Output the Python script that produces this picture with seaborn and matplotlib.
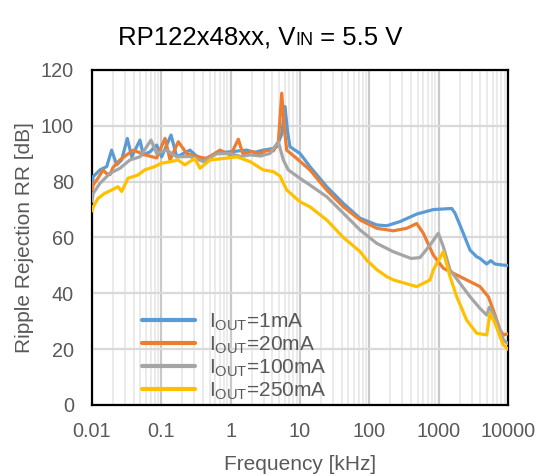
import numpy as np
import pandas as pd
import matplotlib
matplotlib.use("Agg")
import matplotlib.pyplot as plt
import seaborn as sns
from matplotlib.ticker import LogLocator, NullFormatter
from matplotlib.offsetbox import TextArea, HPacker, AnchoredOffsetbox
from matplotlib.lines import Line2D

# ---------------- data ----------------
series_names = ["1mA", "20mA", "100mA", "250mA"]
legend_labels = [r"I$_{\mathrm{OUT}}$=1mA", r"I$_{\mathrm{OUT}}$=20mA",
                 r"I$_{\mathrm{OUT}}$=100mA", r"I$_{\mathrm{OUT}}$=250mA"]
colors = ["#5B9BD5", "#ED7D31", "#A5A5A5", "#FFC000"]

freq_1mA = [0.01, 0.0104, 0.013, 0.0163, 0.0192, 0.0227, 0.0268, 0.0323, 0.0374, 0.0492,
            0.0549, 0.0687, 0.0858, 0.101, 0.138, 0.167, 0.259, 0.31, 0.403, 0.5, 0.629,
            0.8, 0.978, 1.3, 1.7, 2.2, 2.96, 4.12, 4.61, 5.45, 6.08, 6.6, 7.17, 10.0,
            13.9, 24.3, 42.2, 73.4, 128, 178, 277, 483, 838, 1542, 1721, 2266, 2831,
            3537, 3948, 4929, 5634, 6500, 8570, 10000]
rr_1mA = [79, 81.8, 84.2, 85.4, 91.3, 86, 87.8, 95.5, 88.9, 94.9,
          89.6, 90.7, 93.1, 88.9, 96.7, 88.9, 91.3, 89.5, 87.8, 89.0, 90.1,
          90.5, 90.7, 91.0, 91.3, 90.5, 91.3, 91.9, 92.5, 97, 106.9, 98, 92.5, 90.1,
          85.4, 78.2, 72.2, 66.9, 64.5, 64.2, 65.7, 68.4, 70.0, 70.4, 68.7, 61.5, 55.5,
          53.1, 52.5, 50.5, 51.7, 50.5, 50.1, 50.0]

freq_20mA = [0.01, 0.0104, 0.012, 0.0145, 0.016, 0.0182, 0.02, 0.0253, 0.0394, 0.0581,
             0.0858, 0.113, 0.1334, 0.1757, 0.232, 0.3, 0.451, 0.702, 1.0, 1.288, 1.5,
             2.0, 2.65, 3.3, 4.12, 4.87, 5.45, 5.9, 6.43, 8.97, 13.9, 24.3, 42.2, 73.4,
             128, 222, 346, 483, 601, 838, 1167, 1626, 2535, 3948, 5200, 6143, 7676,
             8570, 10000]
rr_20mA = [77, 78.8, 81, 84.2, 83, 82.5, 85, 87.8, 91.3, 89.6,
           88.5, 95.5, 87.8, 94.3, 90.1, 89.2, 88.3, 91.3, 89.5, 95.2, 90,
           90.8, 90.0, 91.2, 91, 94, 111.7, 100, 91.3, 88.3, 84.2, 77, 71, 66.3,
           63.3, 62.4, 63.3, 65, 61.5, 53.7, 49, 47.2, 44.8, 42.4, 38.8, 34, 26.9,
           25.1, 25.5]

freq_100mA = [0.01, 0.0104, 0.013, 0.0182, 0.0253, 0.0353, 0.0492, 0.071, 0.0858, 0.1194,
              0.1666, 0.259, 0.403, 0.629, 0.978, 1.4, 1.9, 2.7, 3.69, 4.87, 5.74, 6.78,
              10.0, 13.9, 24.3, 42.2, 73.4, 128, 222, 400, 538, 750, 989, 1167, 1458,
              2032, 2831, 3948, 4929, 5373, 6143, 7676, 8570, 10000]
rr_100mA = [73, 75.8, 79.4, 83, 84.8, 87.8, 88.9, 94.9, 90.1, 91.3,
            88.9, 89.0, 87.2, 90.0, 90.1, 89.0, 89.6, 89.2, 90.1, 94.3, 87.8, 84.2,
            81.2, 78.8, 74.6, 68.7, 62.7, 57.9, 54.9, 52.5, 52.8, 57.3, 61.5, 56.7, 48.4,
            43.6, 38.8, 34.6, 32.2, 35.0, 32.8, 26.9, 23.3, 22.0]

freq_250mA = [0.01, 0.0104, 0.0122, 0.0152, 0.0192, 0.0237, 0.0268, 0.033, 0.0461, 0.0575,
              0.0802, 0.1, 0.137, 0.174, 0.2175, 0.303, 0.361, 0.504, 0.783, 1.222,
              1.9, 2.96, 4.12, 5.15, 6.43, 7.17, 10.0, 13.9, 24.3, 42.2, 73.4, 91.7,
              128, 178, 222, 483, 750, 838, 1167, 1458, 1820, 2535, 3537, 4929, 5505,
              6500, 7676, 8570, 10000]
rr_250mA = [69.5, 71, 74, 75.8, 77, 78.2, 76.5, 81.2, 82.4, 84.2,
            85.4, 86.6, 87.2, 87.8, 86, 88.3, 84.8, 87.8, 88.3, 88.9,
            87.2, 84.2, 83.6, 82, 77, 76, 72.8, 71, 66.3, 60, 55, 51.9,
            48.5, 46, 44.8, 42.4, 44.8, 48.4, 54.9, 46, 38.8, 30.4, 25.7, 25.1, 32.8,
            29.3, 24.5, 21.5, 20.0]

x_ticks = [0.01, 0.1, 1, 10, 100, 1000, 10000]
x_tick_labels = ["0.01", "0.1", "1", "10", "100", "1000", "10000"]
y_ticks = [0, 20, 40, 60, 80, 100, 120]

# ---------------- build table ----------------
frames = []
for name, f, r in zip(series_names,
                      [freq_1mA, freq_20mA, freq_100mA, freq_250mA],
                      [rr_1mA, rr_20mA, rr_100mA, rr_250mA]):
    frames.append(pd.DataFrame({"freq": f, "rr": r, "series": name}))
df = pd.concat(frames, ignore_index=True)

# ---------------- style ----------------
sns.set_style("white")
plt.rcParams["font.family"] = ["Liberation Sans", "DejaVu Sans"]
plt.rcParams["mathtext.fontset"] = "custom"
plt.rcParams["mathtext.rm"] = "Liberation Sans"
plt.rcParams["mathtext.it"] = "Liberation Sans:italic"
plt.rcParams["mathtext.bf"] = "Liberation Sans:bold"

text_gray = "#595959"

fig = plt.figure(figsize=(5.37, 4.76), dpi=100)
ax = fig.add_axes([92 / 537, 1 - 405 / 476, 416 / 537, 335 / 476])

sns.lineplot(data=df, x="freq", y="rr", hue="series", hue_order=series_names,
             palette=dict(zip(series_names, colors)), linewidth=2.3,
             estimator=None, sort=True, ax=ax, legend=False, zorder=3)

ax.set_xscale("log")
ax.set_xlim(0.01, 10000)
ax.set_ylim(0, 120)
ax.set_xticks(x_ticks, x_tick_labels)
ax.set_yticks(y_ticks)
ax.xaxis.set_minor_locator(LogLocator(base=10, subs=np.arange(2, 10), numticks=30))
ax.xaxis.set_minor_formatter(NullFormatter())

ax.grid(which="major", axis="x", color="#c9c9c9", linewidth=1.6, zorder=0)
ax.grid(which="minor", axis="x", color="#e8e8e8", linewidth=1.2, zorder=0)
ax.grid(which="major", axis="y", color="#d9d9d9", linewidth=1.6, zorder=0)
ax.set_axisbelow(True)

for sp in ax.spines.values():
    sp.set_color("black")
    sp.set_linewidth(1.6)
    sp.set_visible(True)

ax.tick_params(axis="both", which="both", length=0, labelsize=14.3,
               labelcolor=text_gray)
ax.tick_params(axis="x", pad=12.5)
ax.tick_params(axis="y", pad=13)

ax.set_xlabel("Frequency [kHz]", fontsize=15, color=text_gray, labelpad=9.5)
ax.set_ylabel("Ripple Rejection RR [dB]", fontsize=15, color=text_gray, labelpad=5)

# legend
handles = [Line2D([0], [0], color=c, linewidth=3) for c in colors]
leg = ax.legend(handles, legend_labels, loc="lower left",
                bbox_to_anchor=(0.12, 0.01), frameon=False, fontsize=15,
                handlelength=2.55, handletextpad=0.65, labelspacing=0.075,
                borderaxespad=0, borderpad=0)
for t in leg.get_texts():
    t.set_color(text_gray)

# title with baseline "IN"
t1 = TextArea("RP122x48xx, V", textprops=dict(fontsize=18.5, color="black"))
t2 = TextArea("IN", textprops=dict(fontsize=13, color="black"))
t3 = TextArea("\u00a0= 5.5 V", textprops=dict(fontsize=18.5, color="black"))
box = HPacker(children=[t1, t2, t3], align="baseline", pad=0, sep=0)
anch = AnchoredOffsetbox(loc="center", child=box, pad=0, frameon=False,
                         bbox_to_anchor=(260 / 537, 1 - 38 / 476),
                         bbox_transform=fig.transFigure, borderpad=0)
fig.add_artist(anch)

fig.savefig("out.png", dpi=100)
